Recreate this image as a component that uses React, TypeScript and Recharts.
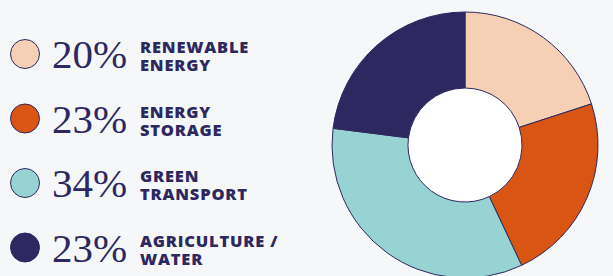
import React from "react";
import { PieChart, Pie, Cell, Legend } from "recharts";

const categories = ["RENEWABLE|ENERGY", "ENERGY|STORAGE", "GREEN|TRANSPORT", "AGRICULTURE /|WATER"];
const values = [20, 23, 34, 23];
const colors = ["#f5d0b5", "#d95513", "#98d3d4", "#2d2960"];
const NAVY = "#2d2960";
const BG = "#f6f7f9";

const data = categories.map((c, i) => ({ name: c, value: values[i], color: colors[i] }));
const center = [{ name: "center", value: 1 }];

const LegendContent = () => (
  <svg width={300} height={276} style={{ display: "block" }}>
    {data.map((d, i) => {
      const y = 54 + i * 64.5;
      const [l1, l2] = d.name.split("|");
      return (
        <g key={d.name}>
          <circle cx={25} cy={y} r={14.5} fill={d.color} stroke={NAVY} strokeWidth={1} />
          <text x={52} y={y + 14} fontFamily="'Liberation Serif', serif" fontSize={41} fill={NAVY}>
            {d.value}%
          </text>
          <text x={140} y={y - 1} fontFamily="'Open Sans', sans-serif" fontWeight={800} fontSize={16.5} fill={NAVY} letterSpacing={0.8}>
            {l1}
          </text>
          <text x={140} y={y + 17} fontFamily="'Open Sans', sans-serif" fontWeight={800} fontSize={16.5} fill={NAVY} letterSpacing={0.8}>
            {l2}
          </text>
        </g>
      );
    })}
  </svg>
);

export default function App() {
  return (
    <div style={{ position: "fixed", left: 0, top: 0, width: 613, height: 276, background: BG }}>
      <PieChart width={613} height={276} margin={{ top: 0, right: 0, bottom: 0, left: 0 }}>
        <Pie
          data={center}
          dataKey="value"
          cx={465}
          cy={145}
          outerRadius={58}
          innerRadius={0}
          startAngle={90}
          endAngle={-270}
          fill="#ffffff"
          stroke="none"
          isAnimationActive={false}
          legendType="none"
        />
        <Pie
          data={data}
          dataKey="value"
          cx={465}
          cy={145}
          outerRadius={133}
          innerRadius={57}
          startAngle={90}
          endAngle={-270}
          stroke={NAVY}
          strokeWidth={1}
          isAnimationActive={false}
          legendType="circle"
        >
          {data.map((d) => (
            <Cell key={d.name} fill={d.color} />
          ))}
        </Pie>
        <Legend
          content={<LegendContent />}
          wrapperStyle={{ position: "absolute", left: 0, top: 0, width: 300, height: 276 }}
        />
      </PieChart>
    </div>
  );
}
